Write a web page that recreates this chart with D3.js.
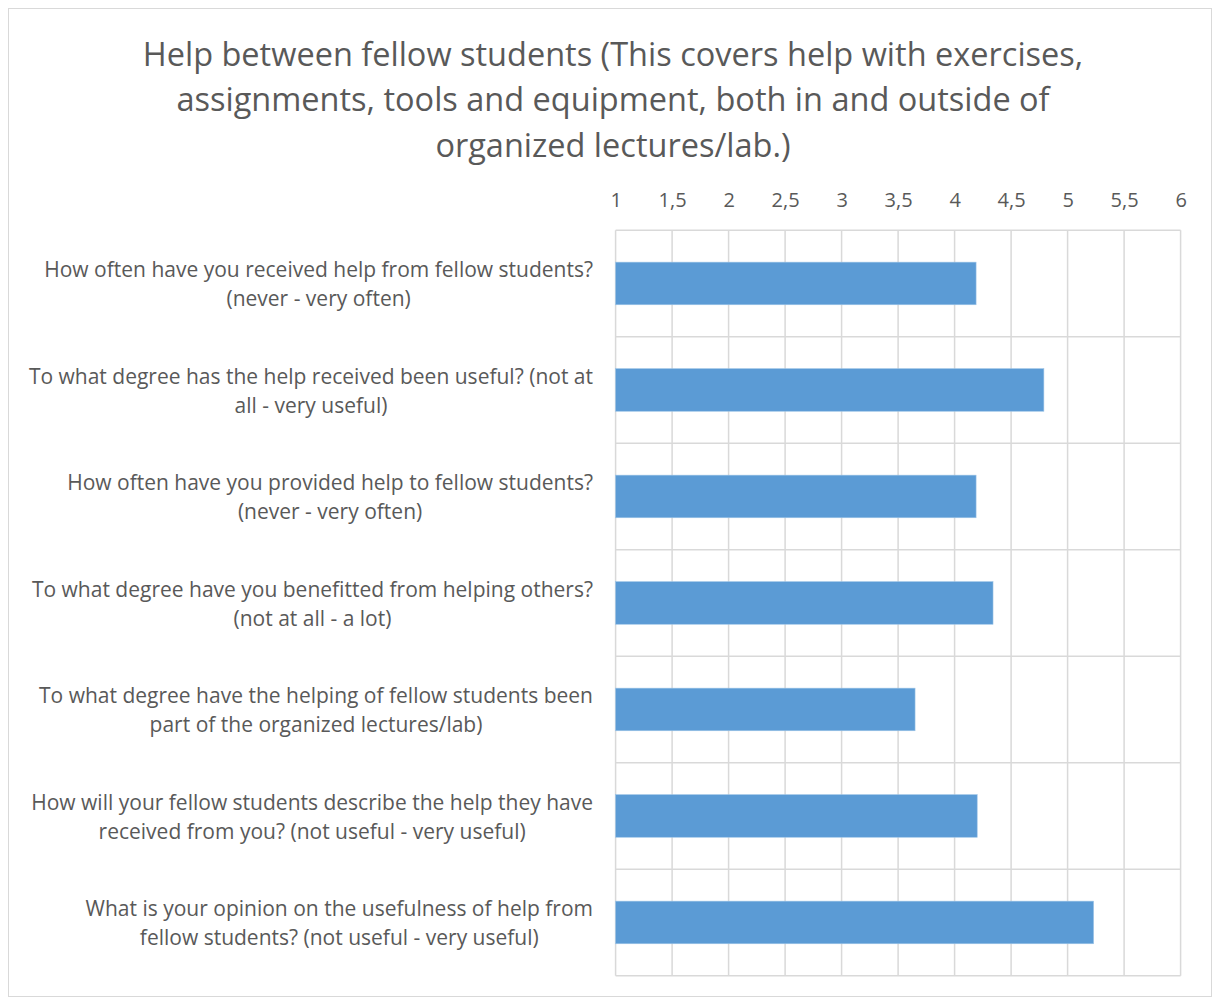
<!DOCTYPE html>
<html>
<head>
<meta charset="utf-8">
<script src="https://cdn.jsdelivr.net/npm/d3@7"></script>
<style>
  html, body { margin: 0; padding: 0; background: #fff; }
  svg { display: block; }
  text { font-family: "Open Sans", "Noto Sans", sans-serif; fill: #595959; }
</style>
</head>
<body>
<svg id="chart" width="1213" height="999"></svg>
<script>
// Survey questions (each entry holds the wrapped lines of the label)
const questions = [
  ["How often have you received help from fellow students?", "(never - very often)"],
  ["To what degree has the help received been useful? (not at", "all - very useful)"],
  ["How often have you provided help to fellow students?", "(never - very often)"],
  ["To what degree have you benefitted from helping others?", "(not at all - a lot)"],
  ["To what degree have the helping of fellow students been", "part of the organized lectures/lab)"],
  ["How will your fellow students describe the help they have", "received from you? (not useful - very useful)"],
  ["What is your opinion on the usefulness of help from", "fellow students? (not useful - very useful)"]
];

// Average answer per question (scale 1-6)
const averages = [4.19, 4.79, 4.19, 4.34, 3.65, 4.20, 5.23];

// Axis ticks
const tickValues = [1, 1.5, 2, 2.5, 3, 3.5, 4, 4.5, 5, 5.5, 6];
const tickLabels = ["1", "1,5", "2", "2,5", "3", "3,5", "4", "4,5", "5", "5,5", "6"];

const titleLines = [
  "Help between fellow students (This covers help with exercises,",
  "assignments, tools and equipment, both in and outside of",
  "organized lectures/lab.)"
];

const svg = d3.select("#chart");

// chart frame
svg.append("rect")
  .attr("x", 8.5).attr("y", 8.5)
  .attr("width", 1203).attr("height", 988)
  .attr("fill", "#fff")
  .attr("stroke", "#d9d9d9")
  .attr("stroke-width", 1);

// title
svg.append("g")
  .selectAll("text")
  .data(titleLines)
  .join("text")
  .attr("x", 613)
  .attr("y", (d, i) => 66 + i * 45.3)
  .attr("text-anchor", "middle")
  .style("font-size", "32.5px")
  .text(d => d);

const plot = { left: 615.6, right: 1180.6, top: 230.2, bottom: 975.7 };

const x = d3.scaleLinear().domain([1, 6]).range([plot.left, plot.right]);
const y = d3.scaleBand()
  .domain(d3.range(questions.length))
  .range([plot.top, plot.bottom])
  .paddingInner(0.6)
  .paddingOuter(0.3);

// vertical gridlines
svg.append("g")
  .selectAll("line")
  .data(tickValues)
  .join("line")
  .attr("x1", d => x(d)).attr("x2", d => x(d))
  .attr("y1", plot.top).attr("y2", plot.bottom)
  .attr("stroke", "#d9d9d9")
  .attr("stroke-width", 1.5);

// horizontal category separators
const bandStep = (plot.bottom - plot.top) / questions.length;
svg.append("g")
  .selectAll("line")
  .data(d3.range(questions.length + 1))
  .join("line")
  .attr("x1", plot.left).attr("x2", plot.right)
  .attr("y1", d => plot.top + d * bandStep).attr("y2", d => plot.top + d * bandStep)
  .attr("stroke", "#d9d9d9")
  .attr("stroke-width", 1.5);

// top axis labels
const axis = d3.axisTop(x)
  .tickValues(tickValues)
  .tickFormat((d, i) => tickLabels[i])
  .tickSize(0)
  .tickPadding(0);
const axisG = svg.append("g")
  .attr("transform", `translate(0,${207})`)
  .call(axis);
axisG.select(".domain").remove();
axisG.selectAll("text")
  .attr("y", 0).attr("dy", 0)
  .style("font-size", "20px")
  .style("font-family", "\"Open Sans\", \"Noto Sans\", sans-serif")
  .attr("fill", "#595959");

// bars
svg.append("g")
  .selectAll("rect")
  .data(averages)
  .join("rect")
  .attr("x", x(1))
  .attr("y", (d, i) => y(i))
  .attr("width", d => x(d) - x(1))
  .attr("height", y.bandwidth())
  .attr("fill", "#5b9bd5")
  .attr("stroke", "#9cc3e6")
  .attr("stroke-width", 0.6);

// category labels: lines centred within a block that is right-aligned to the axis
const labelRight = 593;
const labels = svg.append("g");
questions.forEach((lines, i) => {
  const cy = y(i) + y.bandwidth() / 2;
  const g = labels.append("g");
  const texts = g.selectAll("text")
    .data(lines)
    .join("text")
    .attr("text-anchor", "middle")
    .attr("y", (d, j) => cy + (j - (lines.length - 1) / 2) * 29 + 8.5)
    .style("font-size", "21px")
    .text(d => d);
  let maxW = 0;
  texts.each(function () { maxW = Math.max(maxW, this.getComputedTextLength()); });
  texts.attr("x", labelRight - maxW / 2);
});
</script>
</body>
</html>
